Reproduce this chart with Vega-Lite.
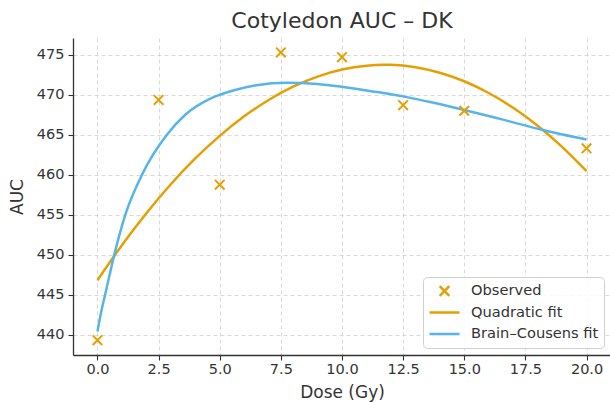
{
  "$schema": "https://vega.github.io/schema/vega-lite/v6.json",
  "width": 538,
  "height": 317,
  "autosize": {"type": "none"},
  "padding": {"top": 38, "left": 73, "right": 0, "bottom": 47},
  "background": "white",
  "title": {
    "text": "Cotyledon AUC – DK",
    "font": "DejaVu Sans",
    "fontSize": 22,
    "fontWeight": "normal",
    "color": "#333333",
    "baseline": "alphabetic",
    "offset": -12,
    "anchor": "middle"
  },
  "config": {
    "view": {"stroke": null},
    "font": "DejaVu Sans",
    "axis": {
      "labelFont": "DejaVu Sans",
      "labelFontSize": 14.5,
      "labelColor": "#333333",
      "titleFont": "DejaVu Sans",
      "titleFontSize": 17,
      "titleFontWeight": "normal",
      "titleColor": "#333333",
      "domainColor": "#333333",
      "domainWidth": 1.3,
      "tickColor": "#333333",
      "tickSize": 5,
      "tickWidth": 1.1,
      "grid": true,
      "gridColor": "#cfcfcf",
      "gridDash": [4, 3],
      "gridWidth": 0.8
    },
    "legend": {
      "labelFont": "DejaVu Sans",
      "labelFontSize": 14.65,
      "labelColor": "#333333",
      "strokeColor": "#d0d0d0",
      "fillColor": "rgba(255,255,255,0.85)",
      "cornerRadius": 4,
      "padding": 5,
      "symbolStrokeWidth": 2.5,
      "symbolSize": 900,
      "labelOffset": 10,
      "clipHeight": 18,
      "rowPadding": 3.5
    }
  },
  "data": {
    "values": [
      {"series": "Observed", "dose": 0, "auc": 439.3},
      {"series": "Observed", "dose": 2.5, "auc": 469.35},
      {"series": "Observed", "dose": 5, "auc": 458.75},
      {"series": "Observed", "dose": 7.5, "auc": 475.3},
      {"series": "Observed", "dose": 10, "auc": 474.7},
      {"series": "Observed", "dose": 12.5, "auc": 468.7},
      {"series": "Observed", "dose": 15, "auc": 468.0},
      {"series": "Observed", "dose": 20, "auc": 463.3},

      {"series": "Quadratic fit", "dose": 0, "auc": 446.8},
      {"series": "Quadratic fit", "dose": 1, "auc": 451.19},
      {"series": "Quadratic fit", "dose": 2, "auc": 455.19},
      {"series": "Quadratic fit", "dose": 3, "auc": 458.81},
      {"series": "Quadratic fit", "dose": 4, "auc": 462.03},
      {"series": "Quadratic fit", "dose": 5, "auc": 464.86},
      {"series": "Quadratic fit", "dose": 6, "auc": 467.3},
      {"series": "Quadratic fit", "dose": 7, "auc": 469.35},
      {"series": "Quadratic fit", "dose": 8, "auc": 471.01},
      {"series": "Quadratic fit", "dose": 9, "auc": 472.27},
      {"series": "Quadratic fit", "dose": 10, "auc": 473.15},
      {"series": "Quadratic fit", "dose": 11, "auc": 473.64},
      {"series": "Quadratic fit", "dose": 12, "auc": 473.74},
      {"series": "Quadratic fit", "dose": 13, "auc": 473.45},
      {"series": "Quadratic fit", "dose": 14, "auc": 472.76},
      {"series": "Quadratic fit", "dose": 15, "auc": 471.69},
      {"series": "Quadratic fit", "dose": 16, "auc": 470.22},
      {"series": "Quadratic fit", "dose": 17, "auc": 468.37},
      {"series": "Quadratic fit", "dose": 18, "auc": 466.13},
      {"series": "Quadratic fit", "dose": 19, "auc": 463.49},
      {"series": "Quadratic fit", "dose": 20, "auc": 460.46},

      {"series": "Brain–Cousens fit", "dose": 0, "auc": 440.4},
      {"series": "Brain–Cousens fit", "dose": 0.15, "auc": 442.8},
      {"series": "Brain–Cousens fit", "dose": 0.33, "auc": 445.2},
      {"series": "Brain–Cousens fit", "dose": 0.69, "auc": 450.0},
      {"series": "Brain–Cousens fit", "dose": 1.14, "auc": 455.0},
      {"series": "Brain–Cousens fit", "dose": 1.82, "auc": 460.0},
      {"series": "Brain–Cousens fit", "dose": 2.84, "auc": 465.0},
      {"series": "Brain–Cousens fit", "dose": 3.59, "auc": 467.5},
      {"series": "Brain–Cousens fit", "dose": 4.68, "auc": 469.6},
      {"series": "Brain–Cousens fit", "dose": 5.63, "auc": 470.6},
      {"series": "Brain–Cousens fit", "dose": 6.5, "auc": 471.2},
      {"series": "Brain–Cousens fit", "dose": 7.74, "auc": 471.5},
      {"series": "Brain–Cousens fit", "dose": 9, "auc": 471.35},
      {"series": "Brain–Cousens fit", "dose": 10, "auc": 471.0},
      {"series": "Brain–Cousens fit", "dose": 11.2, "auc": 470.45},
      {"series": "Brain–Cousens fit", "dose": 12.5, "auc": 469.8},
      {"series": "Brain–Cousens fit", "dose": 13.75, "auc": 469.0},
      {"series": "Brain–Cousens fit", "dose": 15, "auc": 468.1},
      {"series": "Brain–Cousens fit", "dose": 16.5, "auc": 466.95},
      {"series": "Brain–Cousens fit", "dose": 18.22, "auc": 465.6},
      {"series": "Brain–Cousens fit", "dose": 20, "auc": 464.4}
    ]
  },
  "encoding": {
    "x": {
      "field": "dose",
      "type": "quantitative",
      "title": "Dose (Gy)",
      "scale": {"domain": [-1, 21], "nice": false, "zero": false},
      "axis": {"values": [0, 2.5, 5, 7.5, 10, 12.5, 15, 17.5, 20], "format": ".1f", "labelPadding": 2, "titlePadding": 9}
    },
    "y": {
      "field": "auc",
      "type": "quantitative",
      "title": "AUC",
      "scale": {"domain": [437.45, 477.1], "nice": false, "zero": false},
      "axis": {"values": [440, 445, 450, 455, 460, 465, 470, 475], "labelPadding": 4, "titlePadding": 10}
    },
    "color": {
      "field": "series",
      "type": "nominal",
      "title": null,
      "scale": {
        "domain": ["Observed", "Quadratic fit", "Brain–Cousens fit"],
        "range": ["#E69F00", "#E69F00", "#56B4E9"]
      },
      "legend": {"orient": "bottom-right", "offset": 7}
    }
  },
  "layer": [
    {
      "transform": [{"filter": "datum.series === 'Quadratic fit'"}],
      "mark": {"type": "line", "strokeWidth": 2.5, "interpolate": "natural"},
      "encoding": {"detail": {"field": "series"}}
    },
    {
      "transform": [{"filter": "datum.series === 'Brain–Cousens fit'"}],
      "mark": {"type": "line", "strokeWidth": 2.5, "interpolate": "monotone"},
      "encoding": {"detail": {"field": "series"}}
    },
    {
      "transform": [{"filter": "datum.series === 'Observed'"}],
      "mark": {"type": "point", "filled": false, "strokeWidth": 2, "size": 900, "opacity": 1},
      "encoding": {
        "shape": {
          "field": "series",
          "type": "nominal",
          "title": null,
          "scale": {
            "domain": ["Observed", "Quadratic fit", "Brain–Cousens fit"],
            "range": ["M-0.32,-0.32L0.32,0.32M-0.32,0.32L0.32,-0.32", "stroke", "stroke"]
          },
          "legend": {"orient": "bottom-right", "offset": 7}
        }
      }
    }
  ]
}
